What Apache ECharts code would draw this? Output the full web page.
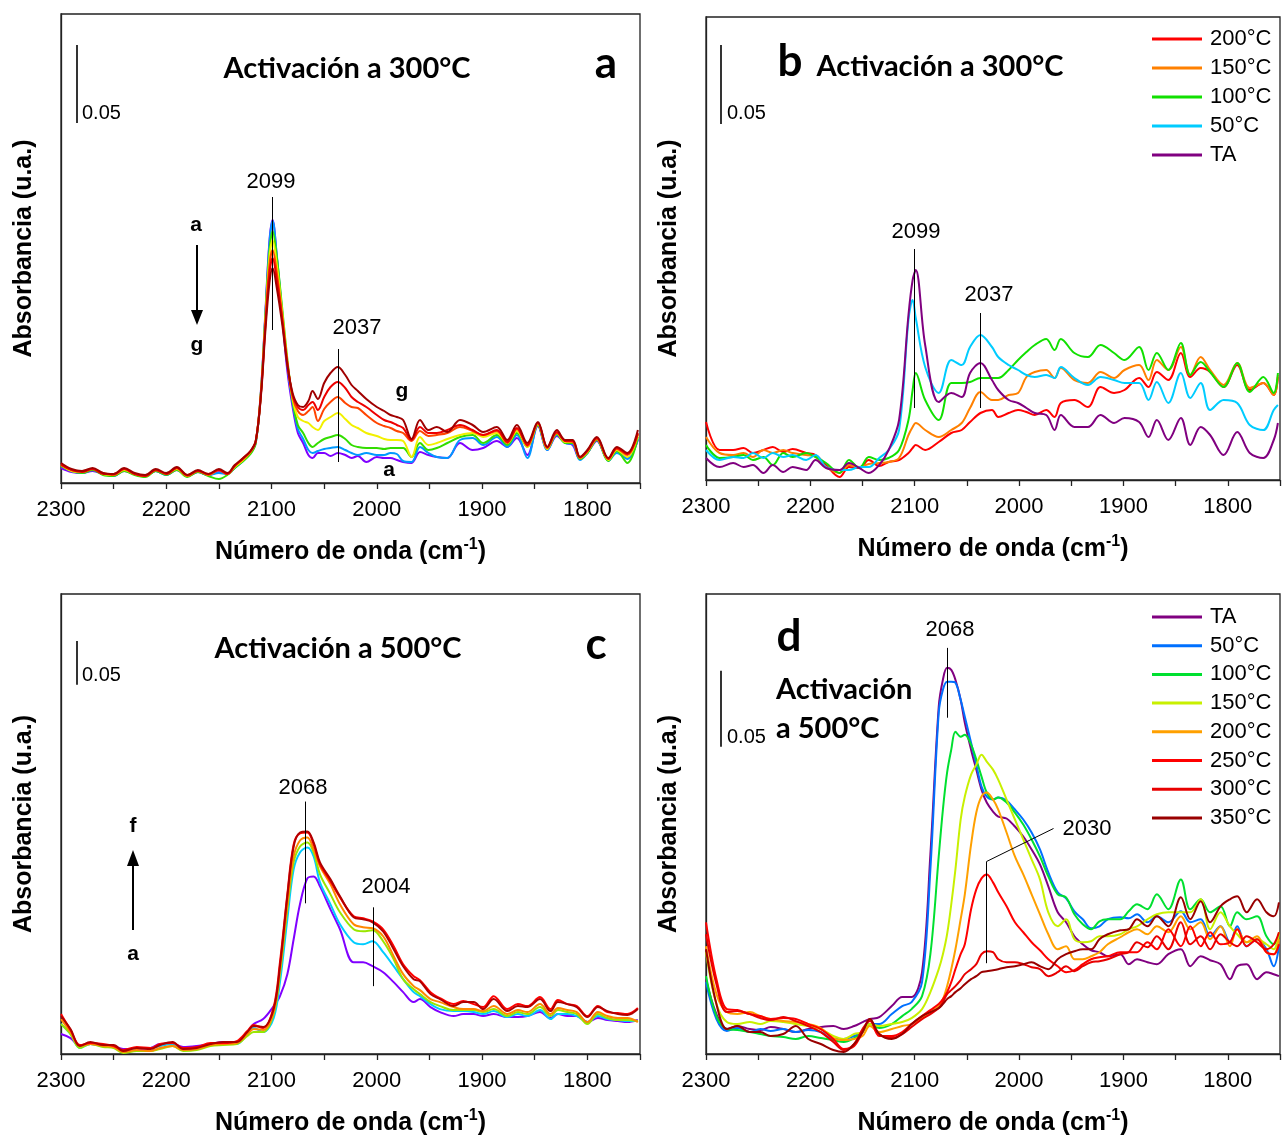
<!DOCTYPE html>
<html><head><meta charset="utf-8">
<script src="https://cdn.jsdelivr.net/npm/echarts@6/dist/echarts.min.js"></script>
<style>html,body{margin:0;padding:0;background:#fff}#c{width:1283px;height:1137px}</style>
</head><body><div id="c"></div>
<script>
// ---------- Panel a (activation 300 C, series a..g), absorbance in arbitrary units ----------
const XA = [2300,2290,2280,2270,2260,2250,2240,2230,2220,2210,
 2200,2190,2180,2170,2160,2150,2142,2135,2128,2120,
 2115,2110,2106,2102,2099,2095,2090,2085,2080,2075,
 2070,2065,2061,2056,2050,2044,2037,2030,2024,2018,
 2010,2000,1993,1987,1981,1975,1967,1959,1951,1943,
 1933,1921,1909,1899,1886,1876,1867,1857,1847,1838,
 1829,1821,1814,1807,1800,1791,1780,1772,1762,1752];
const A_a = [15,11,10,12,9,7,12,9,7,12, 8,13,7,11,8,11,9,15,22,31, 41,94,168,242,263,226,168,112,76,50, 40,28,25,30,30,27,30,28,25,27, 21,26,25,25,23,21,20,31,28,26, 25,40,33,35,42,36,45,28,57,33, 47,40,38,24,30,42,23,32,25,43];
const A_b = [17,12,10,13,9,7,13,9,7,12, 8,14,7,11,8,10,9,15,21,30, 40,92,165,240,262,228,172,118,80,54, 44,33,30,32,34,35,36,33,30,28, 30,28,28,30,29,22,21,36,30,26, 25,43,45,38,46,36,48,25,58,33, 48,40,39,23,30,43,22,30,24,44];
const A_c = [17,12,10,13,8,7,12,8,6,12, 8,13,6,11,7,4,8,15,21,29, 40,92,165,232,252,226,176,124,82,58, 50,40,36,40,44,46,48,44,38,36, 35,35,34,35,35,35,26,40,33,35, 40,46,48,40,48,38,50,36,58,34, 49,40,40,24,30,43,22,32,20,46];
const A_d = [18,12,11,14,9,8,13,9,7,13, 9,14,7,12,8,13,9,16,22,31, 42,92,162,226,243,218,172,122,84,66, 62,60,56,53,62,66,70,64,58,55, 50,47,44,43,43,42,26,46,38,40, 44,48,50,46,50,40,52,36,59,34, 50,41,41,25,31,44,23,33,26,48];
const A_e = [19,13,12,14,10,8,14,9,7,13, 9,15,7,12,8,13,9,17,23,31, 42,90,158,218,233,210,168,120,86,72, 68,72,76,62,74,81,86,80,76,75, 68,60,57,55,52,50,42,52,47,48, 50,56,52,48,52,40,54,37,60,35, 50,42,41,25,32,44,24,34,28,49];
const A_f = [18,13,11,14,9,9,14,9,7,13, 9,15,8,12,9,13,9,17,24,32, 42,90,155,210,225,203,165,120,88,76, 73,78,81,73,86,96,101,95,86,81, 76,68,63,61,58,55,43,56,50,50, 53,58,53,48,53,41,55,38,60,36, 51,42,42,26,32,45,24,35,29,50];
const A_g = [20,14,12,15,10,9,15,10,8,14, 10,16,8,13,9,14,10,18,24,32, 42,88,150,200,215,195,160,118,90,78, 76,82,92,84,100,110,116,108,98,92, 84,76,72,68,66,63,44,63,53,56, 51,63,58,51,56,43,58,40,61,36, 53,43,43,26,33,46,25,36,30,53];

// ---------- Panel b (activation 300 C, temperatures) ----------
const XB = [2300,2287,2274,2264,2255,2245,2236,2226,2217,2204,
 2195,2185,2172,2163,2153,2144,2134,2125,2115,2106,
 2102,2099,2090,2077,2065,2055,2047,2037,2026,2020,
 2010,2001,1993,1985,1974,1966,1960,1947,1934,1922,
 1909,1899,1885,1876,1868,1857,1845,1836,1826,1817,
 1804,1791,1779,1766,1756,1752];
const B_200 = [58,30,30,32,27,30,33,28,31,27, 25,15,3,13,12,20,14,18,20,27, 32,35,30,38,47,50,58,67,70,63, 67,70,68,65,70,63,77,80,73,93, 87,90,102,93,108,100,127,103,112,108, 93,115,90,97,85,103];
const B_150 = [43,27,25,27,23,30,27,30,27,25, 23,13,7,15,13,16,17,18,22,45, 53,57,50,43,50,57,72,88,80,80, 85,87,103,108,110,102,112,100,97,108, 102,110,115,100,120,110,133,105,123,110, 95,117,92,97,85,105];
const B_100 = [35,22,23,25,20,23,15,27,23,27, 23,17,7,20,12,23,20,22,30,60, 90,107,80,60,97,97,98,102,102,102, 110,120,128,135,141,130,141,127,123,135, 127,120,133,110,127,110,137,105,118,108, 93,117,88,103,87,107];
const B_50 = [30,20,23,22,27,22,27,23,25,20, 25,13,10,10,13,13,22,30,50,160, 180,162,113,87,120,115,133,145,133,123, 115,110,105,103,105,102,113,102,95,103, 100,97,97,80,98,77,107,82,97,70, 80,77,55,50,70,75];
const B_TA = [22,13,17,13,15,7,15,8,13,10, 20,12,10,17,12,7,15,30,60,165, 200,210,135,78,87,83,107,117,100,90, 80,77,72,67,65,50,65,53,53,65, 57,62,58,43,60,40,62,35,53,45, 25,48,27,22,40,57];

// ---------- Panel c (activation 500 C, series a..f) ----------
const XC = [2300,2291,2282,2272,2260,2250,2241,2228,2215,2206,
 2194,2184,2171,2158,2146,2133,2123,2117,2108,2098,
 2092,2085,2079,2073,2066,2060,2054,2044,2035,2022,
 2013,2004,1994,1984,1975,1965,1959,1949,1940,1927,
 1918,1908,1899,1889,1876,1866,1857,1845,1835,1828,
 1819,1810,1800,1790,1781,1771,1762,1752];
const C_a = [20,16,8,10,9,8,5,5,6,10, 10,7,8,10,12,12,22,30,35,48, 58,80,115,150,176,178,168,145,125,92, 92,88,82,72,62,52,55,47,42,38, 40,40,38,40,37,37,38,42,36,40, 38,38,32,36,34,33,32,34];
const C_b = [30,20,6,10,8,8,3,6,6,8, 10,4,6,10,10,10,20,26,22,36, 72,135,185,202,207,198,172,150,130,112, 110,113,102,88,75,62,58,50,45,43, 43,42,40,43,37,40,38,44,35,40, 40,38,32,38,35,34,33,33];
const C_c = [30,20,6,10,7,6,1,3,3,5, 8,3,4,8,9,10,18,22,22,40, 80,145,192,208,212,202,180,160,142,125, 123,124,113,95,75,65,60,52,48,44, 44,44,42,45,38,42,40,47,38,44, 42,40,30,40,36,34,34,33];
const C_d = [35,22,8,10,8,7,2,4,3,6, 8,4,5,9,10,11,20,25,24,42, 85,150,198,214,217,205,188,170,150,130, 127,126,118,98,80,68,64,55,52,47, 45,45,43,48,40,44,42,50,40,46, 44,42,32,42,38,36,36,32];
const C_e = [40,24,9,11,10,8,4,7,6,10, 11,6,7,11,11,13,23,29,26,47, 92,160,210,221,222,210,190,173,157,138, 136,133,125,108,90,78,74,62,56,50, 53,50,47,58,45,50,48,57,45,54, 50,48,38,48,42,41,40,46];
const C_f = [38,25,8,12,9,9,3,6,5,9, 12,5,6,10,12,12,22,28,27,45, 88,158,208,222,223,212,192,175,158,137, 135,132,123,105,88,75,73,60,55,48, 52,52,45,55,43,48,47,55,43,52, 50,47,37,47,43,40,39,45];

// ---------- Panel d (activation 500 C, temperatures) ----------
const XD = [2300,2290,2280,2270,2258,2248,2238,2226,2214,2202,
 2190,2178,2168,2158,2150,2143,2134,2122,2112,2103,
 2093,2085,2077,2073,2069,2065,2061,2056,2052,2046,
 2041,2036,2031,2025,2020,2012,2004,1996,1988,1980,
 1972,1963,1955,1947,1939,1931,1923,1915,1903,1895,
 1887,1877,1868,1857,1845,1836,1826,1817,1807,1798,
 1791,1782,1772,1763,1756,1751];
const D_TA = [75,40,25,28,25,24,27,25,22,25, 27,28,25,28,32,35,37,48,57,57, 82,200,348,375,387,385,375,355,332,305, 285,265,252,243,238,236,228,218,205,190, 168,142,132,118,110,104,102,98,100,90, 95,92,90,100,105,88,98,94,90,75, 88,90,75,82,80,78];
const D_50 = [72,35,23,26,22,25,23,25,22,24, 22,15,15,18,22,30,30,40,48,52, 72,185,342,365,373,373,372,355,338,312, 290,268,258,255,257,254,245,235,222,205, 182,162,156,143,135,126,128,135,137,136, 140,132,138,132,143,132,135,118,128,112, 128,108,115,105,88,108];
const D_100 = [78,38,25,24,22,20,18,17,15,18, 16,14,12,16,22,30,26,30,38,45, 58,100,198,245,282,305,323,318,320,310, 295,278,262,255,257,252,242,230,215,198, 178,160,157,140,130,125,133,135,135,143, 150,145,160,145,175,145,155,142,148,128, 142,135,138,118,110,120];
const D_150 = [102,50,32,30,32,30,33,32,30,28, 25,18,15,20,22,30,28,30,32,36, 45,62,85,100,120,150,185,235,258,280, 290,300,293,285,275,255,235,215,195,175, 142,128,135,115,112,113,118,118,120,125, 128,135,140,142,142,142,155,125,142,128, 120,112,115,110,105,122];
const D_200 = [108,60,42,40,42,38,35,33,32,30, 26,16,14,15,18,28,22,25,28,30, 36,42,48,55,68,85,105,135,160,210, 242,258,262,255,245,222,198,180,160,140, 120,105,108,95,95,98,102,110,117,122, 125,120,128,122,138,125,132,115,128,108, 125,112,118,102,100,115];
const D_250 = [132,75,45,44,40,38,35,36,35,30, 25,15,5,8,22,35,18,18,22,30, 38,44,50,55,62,72,85,100,110,145, 165,176,180,172,162,148,132,122,112,104, 95,88,82,84,90,95,97,98,102,102, 102,112,105,125,108,128,108,122,110,112, 125,108,115,102,100,110];
const D_300 = [120,70,42,43,40,36,34,37,33,28, 22,12,4,10,25,33,20,16,20,27, 35,40,46,52,60,64,68,74,80,85, 90,100,103,102,95,92,92,90,87,85, 78,82,88,83,88,92,93,95,100,102, 112,107,118,105,132,110,118,105,120,112, 108,118,112,105,110,122];
const D_350 = [105,50,25,28,22,22,18,20,28,15, 10,4,2,10,22,35,20,15,20,30, 38,42,46,50,55,58,62,66,70,75, 78,82,83,84,85,87,88,90,92,88, 85,95,100,103,105,105,115,120,124,125, 135,128,138,128,157,135,153,132,148,155, 158,142,155,142,138,152];

// y-axis extent of each panel (a.u.) and the 0.05 scale bars / peak markers (data coordinates)
const Y_MAX = [469, 463, 461, 461];
const MARKS = [
  [[2285,360,2285,438,1.6],[2099,153,2099,286,1],[2037,21,2037,134,1]],
  [[2286,356,2286,435,1.6],[2100,72,2100,231,1],[2037,72,2037,167,1]],
  [[2285,370,2285,414,1.6],[2068,151,2068,253,1],[2003,68,2003,147,1]],
  [[2286,308,2286,384,1.6],[2069,337,2069,407,1],[2031,91,2031,193,1],[2031,193,1967,226,1]]
];

const FONT = 'Liberation Sans, Arial, sans-serif';
const TFONT = 'Lato, Carlito, Calibri, sans-serif';

const chart = echarts.init(document.getElementById('c'), null, {renderer:'canvas', width:1283, height:1137});

const grids = [
  {left:61, top:14, width:579, height:469},
  {left:706, top:17, width:578, height:463},
  {left:61, top:594, width:579, height:461},
  {left:706, top:594, width:578, height:461}
].map(g => Object.assign({show:true, borderColor:'#222', borderWidth:1.3, backgroundColor:'transparent'}, g));

function xAx(i){
  return {gridIndex:i, type:'value', min:1750, max:2300, interval:50, inverse:true,
    axisLine:{show:true, onZero:false, lineStyle:{color:'#222', width:1.3}},
    axisTick:{show:true, length:6, lineStyle:{color:'#222', width:1.3}},
    axisLabel:{fontSize:22, fontFamily:FONT, color:'#000', margin:16, showMinLabel:true, showMaxLabel:true,
      formatter: v => (v % 100 === 0 ? String(v) : '')},
    splitLine:{show:false},
    name:'{b|Número de onda (cm}{s|-1}{b|)}', nameLocation:'middle', nameGap:54,
    nameTextStyle:{rich:{
      b:{fontSize:25, fontWeight:'bold', fontFamily:FONT, color:'#000', lineHeight:28, verticalAlign:'bottom'},
      s:{fontSize:16, fontWeight:'bold', fontFamily:FONT, color:'#000', lineHeight:16, verticalAlign:'top'}}}
  };
}
function yAx(i){
  return {gridIndex:i, type:'value', min:0, max:Y_MAX[i],
    axisLine:{show:true, lineStyle:{color:'#222', width:1.3}}, axisTick:{show:false}, axisLabel:{show:false}, splitLine:{show:false},
    name:'Absorbancia (u.a.)', nameLocation:'middle', nameGap:24,
    nameTextStyle:{fontSize:25, fontWeight:'bold', fontFamily:FONT, color:'#000'}};
}

function mk(gi, name, xs, ys, color){
  return {type:'line', name, xAxisIndex:gi, yAxisIndex:gi,
    data: xs.map((x,k)=>[x, ys[k]]), showSymbol:false, symbol:'none', smooth:0.35,
    lineStyle:{color, width:2}, itemStyle:{color}, silent:true, animation:false};
}
function withMarks(s, gi){
  s.markLine = {silent:true, symbol:['none','none'], label:{show:false}, animation:false,
    lineStyle:{color:'#000', width:1, type:'solid'},
    data: MARKS[gi].map(m => [{coord:[m[0],m[1]], lineStyle:{color:'#000', width:m[4], type:'solid'}}, {coord:[m[2],m[3]]}])};
  return s;
}

const series = [
  withMarks(mk(0,'A:a',XA,A_a,'#7f00ff'),0),
  mk(0,'A:b',XA,A_b,'#0099ff'),
  mk(0,'A:c',XA,A_c,'#33dd00'),
  mk(0,'A:d',XA,A_d,'#f2f000'),
  mk(0,'A:e',XA,A_e,'#ff4400'),
  mk(0,'A:f',XA,A_f,'#ee0000'),
  mk(0,'A:g',XA,A_g,'#a00000'),

  withMarks(mk(1,'B:200°C',XB,B_200,'#ff0000'),1),
  mk(1,'B:150°C',XB,B_150,'#ff8000'),
  mk(1,'B:100°C',XB,B_100,'#11e000'),
  mk(1,'B:50°C',XB,B_50,'#00ccff'),
  mk(1,'B:TA',XB,B_TA,'#800080'),

  withMarks(mk(2,'C:a',XC,C_a,'#8000ff'),2),
  mk(2,'C:b',XC,C_b,'#00ccff'),
  mk(2,'C:c',XC,C_c,'#99e600'),
  mk(2,'C:d',XC,C_d,'#ff8800'),
  mk(2,'C:e',XC,C_e,'#ff0000'),
  mk(2,'C:f',XC,C_f,'#b00000'),

  withMarks(mk(3,'D:TA',XD,D_TA,'#800080'),3),
  mk(3,'D:50°C',XD,D_50,'#0070ff'),
  mk(3,'D:100°C',XD,D_100,'#00e030'),
  mk(3,'D:150°C',XD,D_150,'#c8f000'),
  mk(3,'D:200°C',XD,D_200,'#ffa000'),
  mk(3,'D:250°C',XD,D_250,'#ff0000'),
  mk(3,'D:300°C',XD,D_300,'#e80000'),
  mk(3,'D:350°C',XD,D_350,'#990000')
];

const legendBase = {orient:'vertical', left:1147, itemWidth:50, itemHeight:3, icon:'rect', selectedMode:false,
  formatter: n => n.split(':')[1],
  textStyle:{fontSize:22, fontFamily:FONT, color:'#000', lineHeight:20, padding:[0,0,0,3]}};
const legends = [
  Object.assign({}, legendBase, {top:23, itemGap:7, data:['B:200°C','B:150°C','B:100°C','B:50°C','B:TA']}),
  Object.assign({}, legendBase, {top:601, itemGap:6.7, data:['D:TA','D:50°C','D:100°C','D:150°C','D:200°C','D:250°C','D:300°C','D:350°C']})
];

function txt(x, y, t, size, opt){
  opt = opt || {};
  return {type:'text', x, y, silent:true, z:10,
    style:{text:t, fontSize:size, fontFamily:opt.family || FONT, fontWeight:opt.bold ? 'bold' : 'normal',
      fill:'#000', align:opt.align || 'center', verticalAlign:'middle',
      textAlign:opt.align || 'center', textVerticalAlign:'middle'}};
}
function vline(x, y1, y2){ return {type:'line', silent:true, z:10, shape:{x1:x, y1:y1, x2:x, y2:y2}, style:{stroke:'#000', lineWidth:2}}; }
function head(pts){ return {type:'polygon', silent:true, z:10, shape:{points:pts}, style:{fill:'#000'}}; }

const graphic = [
  // panel a
  txt(347, 69, 'Activación a 300°C', 29, {bold:true, family:TFONT}),
  txt(606, 64, 'a', 44, {bold:true, family:TFONT}),
  txt(82, 113, '0.05', 20, {align:'left'}),
  txt(271, 182, '2099', 22),
  txt(357, 328, '2037', 22),
  txt(196, 225, 'a', 21, {bold:true}),
  vline(197, 245, 312), head([[191,310],[203,310],[197,325]]),
  txt(197, 345, 'g', 21, {bold:true}),
  txt(402, 391, 'g', 21, {bold:true}),
  txt(389, 470, 'a', 21, {bold:true}),
  // panel b
  txt(790, 62, 'b', 44, {bold:true, family:TFONT}),
  txt(940, 67, 'Activación a 300°C', 29, {bold:true, family:TFONT}),
  txt(727, 113, '0.05', 20, {align:'left'}),
  txt(916, 232, '2099', 22),
  txt(989, 295, '2037', 22),
  // panel c
  txt(338, 649, 'Activación a 500°C', 29, {bold:true, family:TFONT}),
  txt(596, 645, 'c', 44, {bold:true, family:TFONT}),
  txt(82, 675, '0.05', 20, {align:'left'}),
  txt(303, 788, '2068', 22),
  txt(386, 887, '2004', 22),
  txt(133, 826, 'f', 21, {bold:true}),
  vline(133, 930, 864), head([[127,866],[139,866],[133,850]]),
  txt(133, 954, 'a', 21, {bold:true}),
  // panel d
  txt(789, 637, 'd', 44, {bold:true, family:TFONT}),
  txt(776, 690, 'Activación', 29, {bold:true, family:TFONT, align:'left'}),
  txt(776, 729, 'a 500°C', 29, {bold:true, family:TFONT, align:'left'}),
  txt(727, 737, '0.05', 20, {align:'left'}),
  txt(950, 630, '2068', 22),
  txt(1087, 829, '2030', 22)
];

chart.setOption({
  animation:false,
  backgroundColor:'#fff',
  grid: grids,
  xAxis: [0,1,2,3].map(xAx),
  yAxis: [0,1,2,3].map(yAx),
  legend: legends,
  series,
  graphic
});
</script></body></html>
